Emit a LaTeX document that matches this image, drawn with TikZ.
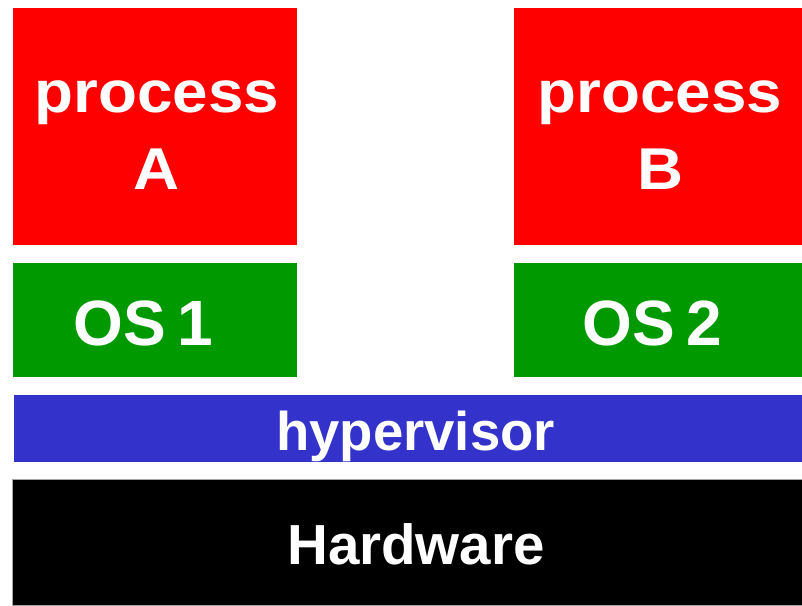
\documentclass[tikz,border=0pt]{standalone}
\usepackage{fontspec}
\setmainfont{Liberation Sans}
\newfontfamily\procfont{Liberation Sans}[FakeStretch=1.08]
\begin{document}
\begin{tikzpicture}[x=1pt,y=-1pt,
  layer/.style={inner sep=0pt, outer sep=0pt},
  lbl/.style={inner sep=0pt, outer sep=0pt, text=white, align=center},
  procbox/.style={layer, fill=procred, minimum height=237pt},
  osbox/.style={layer, fill=osgreen, minimum height=114pt},
  hvbox/.style={layer, fill=hvblue, minimum width=788pt, minimum height=67pt},
  hwbox/.style={layer, fill=black, draw=gray!70, line width=0.8pt, minimum width=790pt, minimum height=126pt},
  proctext/.style={lbl, font=\fontsize{59}{77}\selectfont\procfont\bfseries},
  ostext/.style={lbl, font=\fontsize{64}{70}\selectfont\bfseries},
  hvtext/.style={lbl, font=\fontsize{54.5}{60}\selectfont\bfseries},
  hwtext/.style={lbl, font=\fontsize{56.5}{60}\selectfont\bfseries}
]
\definecolor{procred}{RGB}{255,0,0}
\definecolor{osgreen}{RGB}{0,153,0}
\definecolor{hvblue}{RGB}{51,51,204}
\useasboundingbox (0,0) rectangle (802,605);

% processes
\node[procbox, minimum width=284pt] (pa) at (155,126.5) {};
\node[procbox, minimum width=288pt] (pb) at (658,126.5) {};
\node[proctext] (pa-t) at ([xshift=2pt,yshift=-9pt]pa.center) {process\\A};
\node[proctext] (pb-t) at ([xshift=2pt,yshift=-9pt]pb.center) {process\\B};

% guest operating systems
\node[osbox, minimum width=284pt] (os1) at (155,320) {};
\node[osbox, minimum width=288pt] (os2) at (658,320) {};
\node[ostext] (os1-t) at ([xshift=-11.5pt,yshift=-3pt]os1.center) {OS\hspace{11pt}1};
\node[ostext] (os2-t) at ([xshift=-5.5pt,yshift=-3pt]os2.center) {OS\hspace{11pt}2};

% hypervisor and hardware layers
\node[hvbox] (hv) at (408,428.5) {};
\node[hwbox] (hw) at (407,542.5) {};
\node[hvtext] (hv-t) at ([xshift=7.5pt,yshift=-8pt]hv.center) {hypervisor};
\node[hwtext] (hw-t) at ([xshift=9pt,yshift=-2pt]hw.center) {Hardware};
\end{tikzpicture}
\end{document}
